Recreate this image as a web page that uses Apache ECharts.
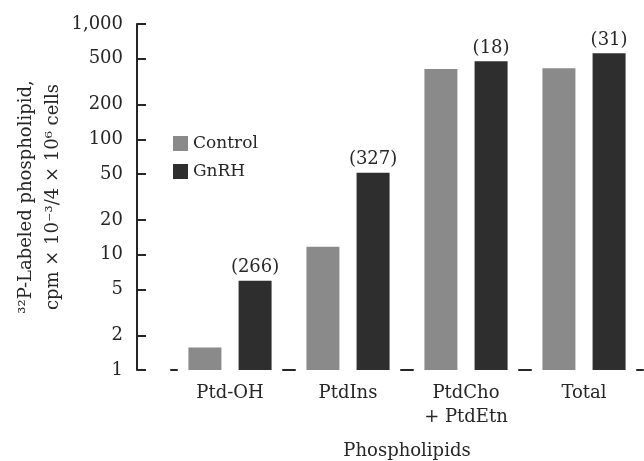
<!DOCTYPE html>
<html>
<head>
<meta charset="utf-8">
<script src="https://cdn.jsdelivr.net/npm/echarts@6/dist/echarts.min.js"></script>
<style>
  html, body { margin: 0; padding: 0; background: #fff; }
  #chart { width: 644px; height: 461px; }
</style>
</head>
<body>
<div id="chart"></div>
<script>
// data
const categories = ['Ptd-OH', 'PtdIns', 'PtdCho\n+ PtdEtn', 'Total']
const control = [1.57, 11.7, 408, 414]
const gnrh = [5.95, 51.4, 476, 558]
const percentIncrease = [266, 327, 18, 31]
const yTicks = [1, 2, 5, 10, 20, 50, 100, 200, 500, 1000]

const font = 'DejaVu Serif'
const ink = '#262626'

const chart = echarts.init(document.getElementById('chart'))
chart.setOption({
  animation: false,
  textStyle: { fontFamily: font, color: ink },
  grid: { left: 171, right: 1, top: 24, bottom: 91, outerBoundsMode: 'none', containLabel: false },
  legend: {
    orient: 'vertical',
    left: 168,
    top: 130,
    itemWidth: 15,
    itemHeight: 15,
    itemGap: 11,
    icon: 'rect',
    textStyle: { fontFamily: font, fontSize: 17, color: ink },
    data: ['Control', 'GnRH']
  },
  xAxis: {
    type: 'category',
    data: categories,
    name: 'Phospholipids',
    nameLocation: 'middle',
    nameGap: 72,
    nameTextStyle: { fontFamily: font, fontSize: 18, color: ink },
    axisLine: {
      lineStyle: { color: ink, width: 2, type: [12, 106], dashOffset: 6 }
    },
    axisTick: { show: false },
    axisLabel: {
      fontFamily: font, fontSize: 18, color: ink, margin: 11, lineHeight: 24
    }
  },
  yAxis: {
    type: 'log',
    logBase: 10,
    min: 1,
    max: 1000,
    offset: 34,
    name: '³²P-Labeled phospholipid,\ncpm × 10⁻³/4 × 10⁶ cells',
    nameLocation: 'middle',
    nameGap: 70,
    nameMoveOverlap: false,
    nameTextStyle: { fontFamily: font, fontSize: 18, color: ink, lineHeight: 27 },
    axisLine: { show: true, lineStyle: { color: ink, width: 2 } },
    axisTick: {
      show: true, inside: true, length: 9,
      lineStyle: { color: ink, width: 2 },
      customValues: yTicks
    },
    axisLabel: {
      fontFamily: font, fontSize: 18, color: ink, margin: 14,
      customValues: yTicks,
      formatter: v => echarts.format.addCommas(v)
    },
    splitLine: { show: false }
  },
  series: [
    {
      name: 'Control',
      type: 'bar',
      data: control,
      barWidth: 33,
      barGap: '52%',
      itemStyle: { color: '#8a8a8a' }
    },
    {
      name: 'GnRH',
      type: 'bar',
      data: gnrh,
      barWidth: 33,
      itemStyle: { color: '#2e2e2e' },
      label: {
        show: true,
        position: 'top',
        distance: 4,
        fontFamily: font,
        fontSize: 18,
        color: ink,
        formatter: p => '(' + percentIncrease[p.dataIndex] + ')'
      }
    }
  ]
})
</script>
</body>
</html>
